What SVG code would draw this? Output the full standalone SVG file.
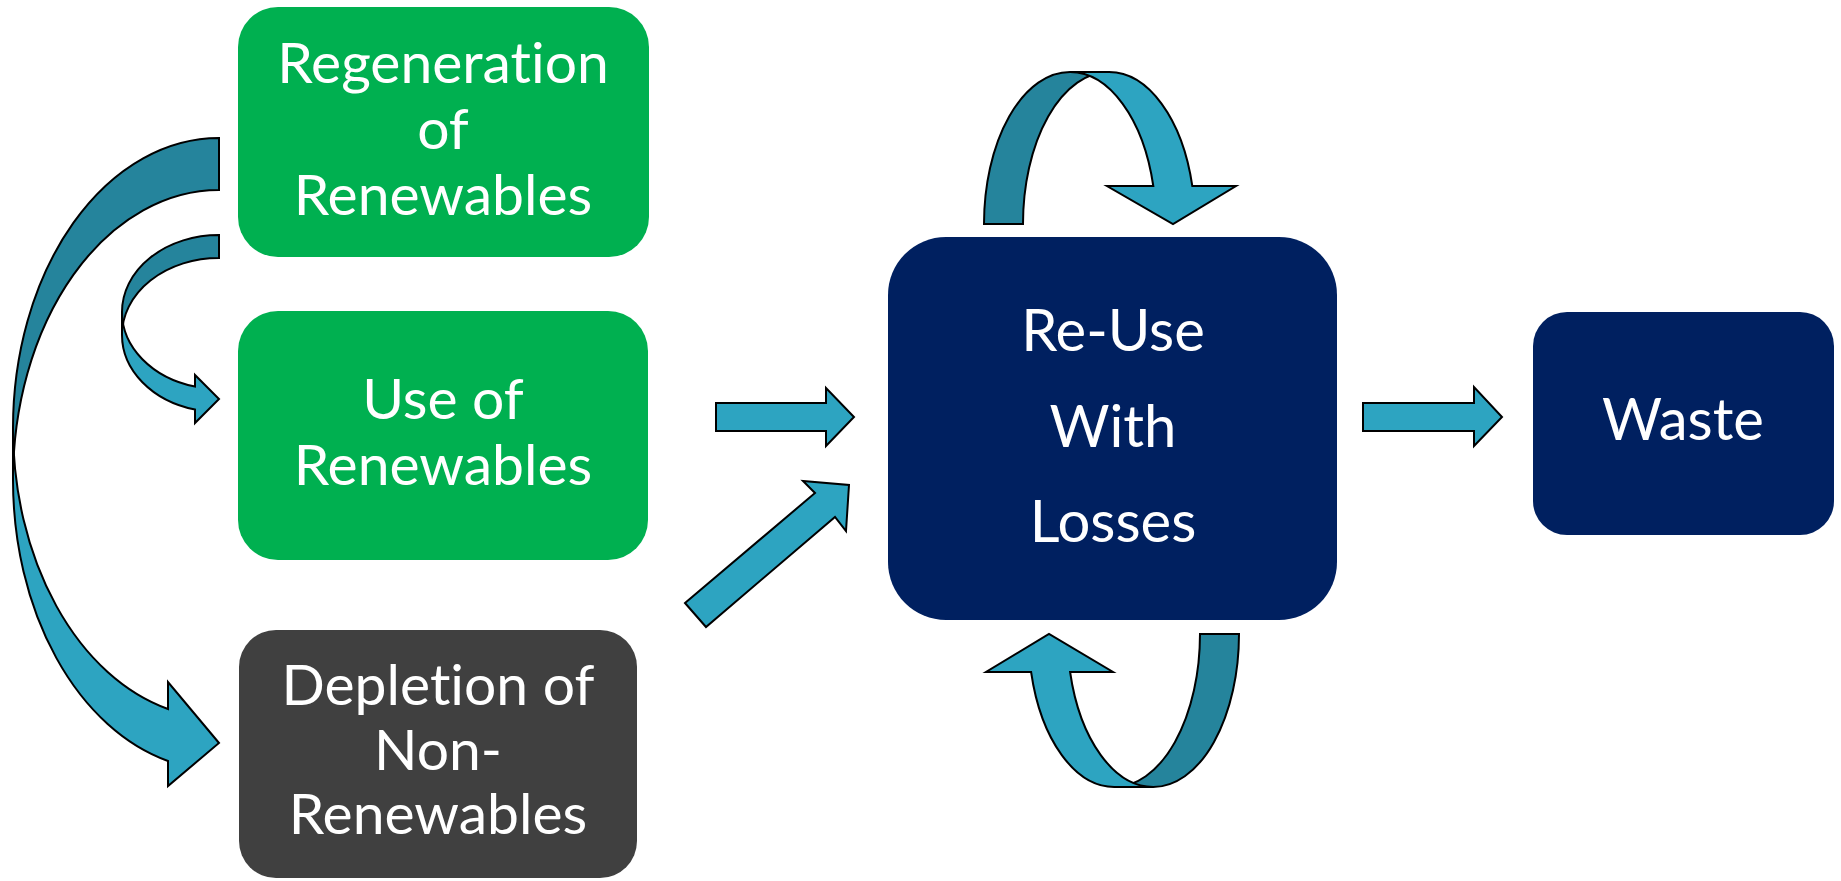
<svg xmlns="http://www.w3.org/2000/svg" width="1841" height="881" viewBox="0 0 1841 881">
  <style>
    .box-green { fill: #00B050; }
    .box-navy { fill: #002060; }
    .box-gray { fill: #404040; }
    .label { fill: #FFFFFF; font-family: Lato, "Liberation Sans", sans-serif; font-size: 57px; text-anchor: middle; font-variant-ligatures: none; font-feature-settings: "liga" 0; }
    .label-lg { font-size: 58px; }
    .arrow { fill: #2DA4C1; stroke: #000000; stroke-width: 2; stroke-linejoin: miter; }
    .arrow-back { fill: #25849C; stroke: #000000; stroke-width: 2; stroke-linejoin: miter; }
  </style>

  <rect width="1841" height="881" fill="#FFFFFF"/>

  <!-- connectors: each curved ribbon = back band (darker) drawn first, front band with head on top -->
  <g id="connectors">
    <!-- large curved arrow: Regeneration down to Depletion -->
    <g id="curve-regen-depletion">
      <path class="arrow-back" d="M219,138 A206,290 0 0,0 13,428 L13,480 A206,290 0 0,1 219,190 Z"/>
      <path class="arrow" d="M13,480 A206,290 0 0,0 168,761 L168,786 L219,743 L168,682 L168,709 A206,290 0 0,1 13,428 Z"/>
    </g>
    <!-- small curved arrow: Regeneration down to Use -->
    <g id="curve-regen-use">
      <path class="arrow-back" d="M219,235 A97,77 0 0,0 122,312 L122,335 A97,77 0 0,1 219,258 Z"/>
      <path class="arrow" d="M122,335 A97,77 0 0,0 195,409.6 L195,423 L219,399 L195,375 L195,386.6 A97,77 0 0,1 122,312 Z"/>
    </g>
    <!-- straight arrows into Re-Use -->
    <polygon id="arrow-use-reuse" class="arrow" points="716,403 826,403 826,388 854,417 826,446 826,431 716,431"/>
    <polygon id="arrow-depletion-reuse" class="arrow" points="685,603 815,493 803,481 849,485 846,531 835,517 706,627"/>
    <!-- Re-Use to Waste -->
    <polygon id="arrow-reuse-waste" class="arrow" points="1363,403 1474,403 1474,387 1502,417 1474,446 1474,431 1363,431"/>
    <!-- loop above Re-Use -->
    <g id="loop-top">
      <path class="arrow-back" d="M984,224 A86,152 0 0,1 1070,72 L1109,72 A86,152 0 0,0 1023,224 Z"/>
      <path class="arrow" d="M1070,72 L1109,72 A86,152 0 0,1 1192.3,186 L1236,186 L1173,224 L1107,186 L1153.3,186 A86,152 0 0,0 1070,72 Z"/>
    </g>
    <!-- loop below Re-Use -->
    <g id="loop-bottom">
      <path class="arrow-back" d="M1239,634 A85.8,153 0 0,1 1153.2,787 L1114.2,787 A85.8,153 0 0,0 1200,634 Z"/>
      <path class="arrow" d="M1114.2,787 A85.8,153 0 0,1 1031.1,672 L986,672 L1049,634 L1113,672 L1070.1,672 A85.8,153 0 0,0 1153.2,787 Z"/>
    </g>
  </g>

  <!-- nodes -->
  <g id="node-regeneration">
    <rect class="box-green" x="238" y="7" width="411" height="250" rx="40" ry="40"/>
    <text class="label" x="443" y="83">Regeneration</text>
    <text class="label" x="443" y="149">of</text>
    <text class="label" x="443" y="215">Renewables</text>
  </g>

  <g id="node-use">
    <rect class="box-green" x="238" y="311" width="410" height="249" rx="40" ry="40"/>
    <text class="label" x="443" y="419">Use of</text>
    <text class="label" x="443" y="485">Renewables</text>
  </g>

  <g id="node-depletion">
    <rect class="box-gray" x="239" y="630" width="398" height="248" rx="37" ry="37"/>
    <text class="label" x="438" y="705">Depletion of</text>
    <text class="label" x="438" y="770">Non-</text>
    <text class="label" x="438" y="834">Renewables</text>
  </g>

  <g id="node-reuse">
    <rect class="box-navy" x="888" y="237" width="449" height="383" rx="58" ry="58"/>
    <text class="label label-lg" x="1113" y="351">Re-Use</text>
    <text class="label label-lg" x="1113" y="447">With</text>
    <text class="label label-lg" x="1113" y="542">Losses</text>
  </g>

  <g id="node-waste">
    <rect class="box-navy" x="1533" y="312" width="301" height="223" rx="34" ry="34"/>
    <text class="label label-lg" x="1683" y="440">Waste</text>
  </g>
</svg>
